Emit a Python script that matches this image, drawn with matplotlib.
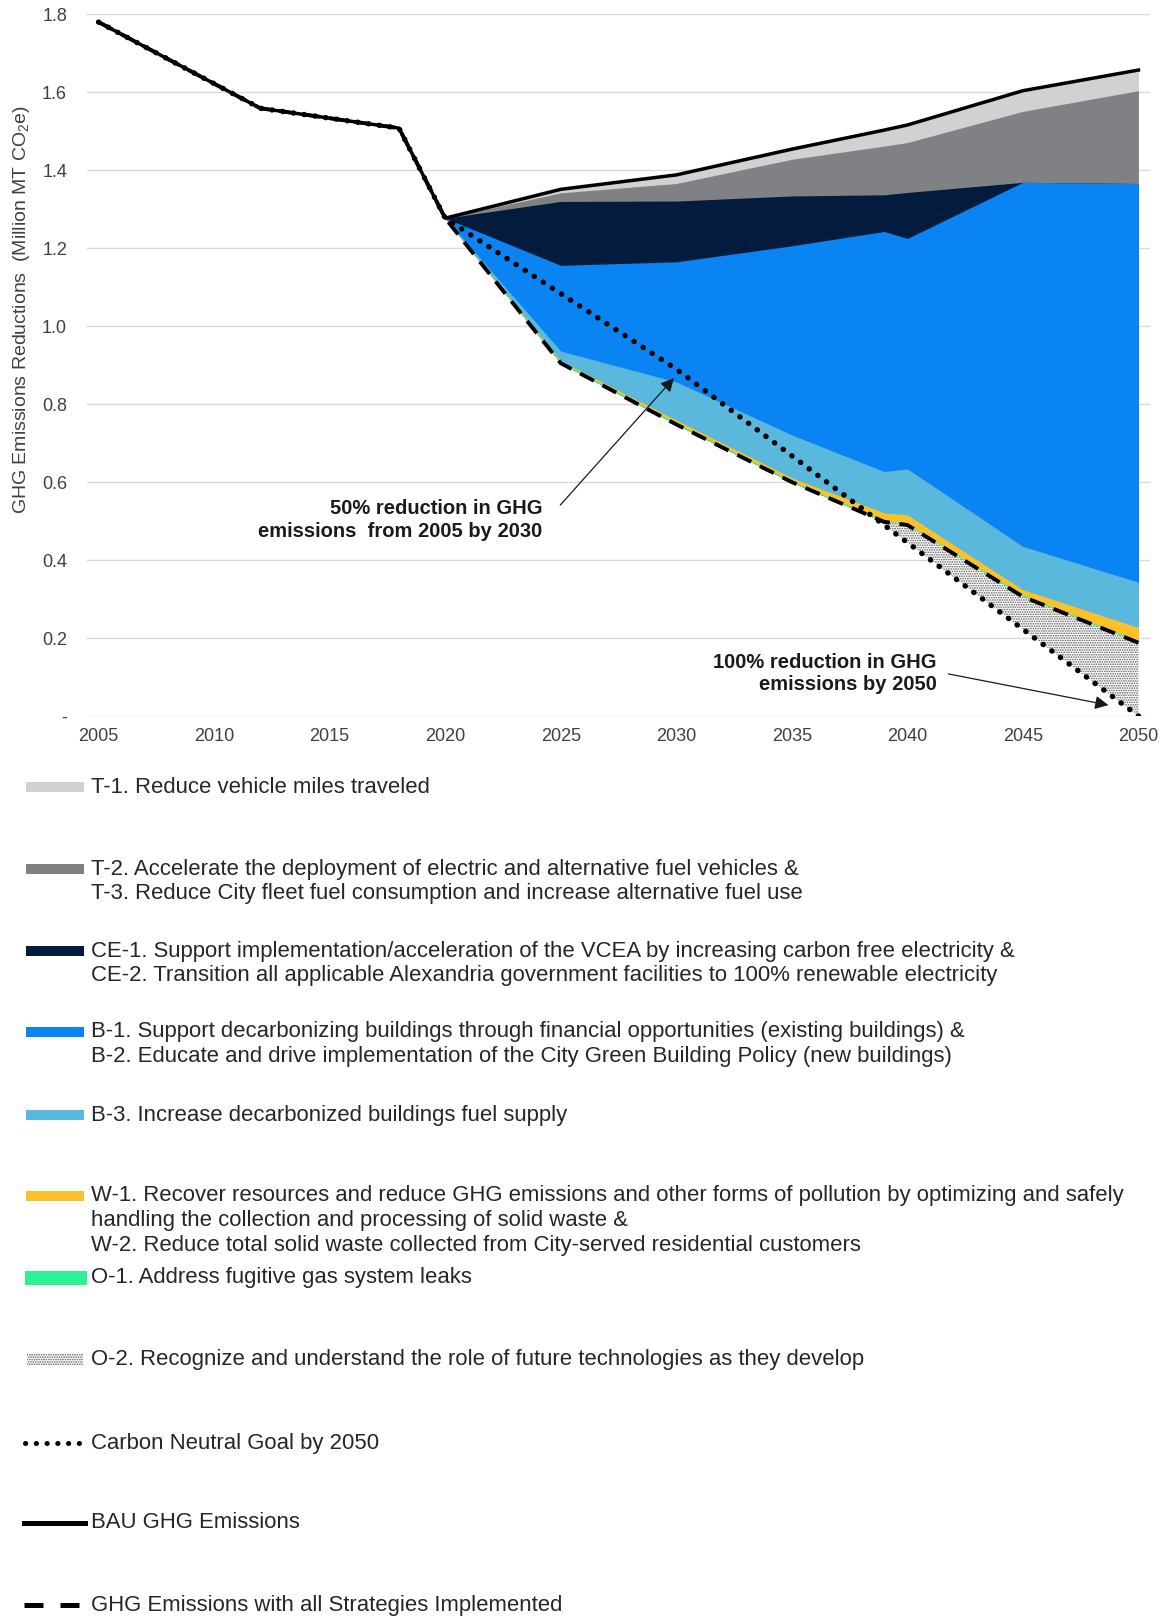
import numpy as np
import matplotlib
matplotlib.use("Agg")
import matplotlib.pyplot as plt
from matplotlib.patches import Rectangle
from matplotlib.lines import Line2D

plt.rcParams['font.family'] = ['Liberation Sans', 'DejaVu Sans']
plt.rcParams['mathtext.fontset'] = 'custom'
plt.rcParams['mathtext.rm'] = 'Liberation Sans'
plt.rcParams['mathtext.it'] = 'Liberation Sans:italic'
plt.rcParams['hatch.linewidth'] = 0.8

# ---------------- data ----------------
years_hist = [2005, 2012, 2018, 2020]
bau_hist = [1.780, 1.559, 1.508, 1.277]

years_proj = [2020, 2025, 2030, 2035, 2039, 2040, 2045, 2050]
bau_proj = [1.277, 1.351, 1.388, 1.454, 1.503, 1.516, 1.604, 1.657]
with_all_proj = [1.277, 0.905, 0.748, 0.600, 0.498, 0.490, 0.306, 0.188]

goal_years = [2020, 2030, 2050]
goal_vals = [1.277, 0.890, 0.000]

# strategy reductions (layer thickness), stacked upward from "with all strategies"
o1 = [0, 0.003, 0.003, 0.003, 0.003, 0.003, 0.004, 0.004]
w1 = [0, 0.003, 0.008, 0.008, 0.020, 0.023, 0.014, 0.035]
b3 = [0, 0.025, 0.098, 0.110, 0.106, 0.118, 0.111, 0.116]
b1 = [0, 0.220, 0.308, 0.485, 0.616, 0.591, 0.934, 1.023]
ce1 = [0, 0.164, 0.156, 0.128, 0.094, 0.118, 0.000, 0.000]
t2 = [0, 0.022, 0.045, 0.094, 0.125, 0.128, 0.182, 0.238]
t1 = [0, 0.010, 0.026, 0.032, 0.041, 0.045, 0.054, 0.054]

layer_colors = ['#2ef096', '#fbc12a', '#5ab8dc', '#0a84f2', '#031c3d', '#808184', '#d0d1d3']
o2_color = '#5a5a5a'

x_ticks = list(range(2005, 2051, 5))
y_ticks = [0, 0.2, 0.4, 0.6, 0.8, 1.0, 1.2, 1.4, 1.6, 1.8]
y_ticklabels = ['-', '0.2', '0.4', '0.6', '0.8', '1.0', '1.2', '1.4', '1.6', '1.8']

ylabel = 'GHG Emissions Reductions  (Million MT CO$_2$e)'
note_50 = '50% reduction in GHG\nemissions  from 2005 by 2030'
note_100 = '100% reduction in GHG\nemissions by 2050'

legend_labels = [
    'T-1. Reduce vehicle miles traveled',
    'T-2. Accelerate the deployment of electric and alternative fuel vehicles &\n'
    'T-3. Reduce City fleet fuel consumption and increase alternative fuel use',
    'CE-1. Support implementation/acceleration of the VCEA by increasing carbon free electricity &\n'
    'CE-2. Transition all applicable Alexandria government facilities to 100% renewable electricity',
    'B-1. Support decarbonizing buildings through financial opportunities (existing buildings) &\n'
    'B-2. Educate and drive implementation of the City Green Building Policy (new buildings)',
    'B-3. Increase decarbonized buildings fuel supply',
    'W-1. Recover resources and reduce GHG emissions and other forms of pollution by optimizing and safely\n'
    'handling the collection and processing of solid waste &\n'
    'W-2. Reduce total solid waste collected from City-served residential customers',
    'O-1. Address fugitive gas system leaks',
    'O-2. Recognize and understand the role of future technologies as they develop',
    'Carbon Neutral Goal by 2050',
    'BAU GHG Emissions',
    'GHG Emissions with all Strategies Implemented',
]

# ---------------- figure ----------------
W, H = 1161, 1618
fig = plt.figure(figsize=(W / 100, H / 100), dpi=100)
ax_l, ax_r, ax_t, ax_b = 87, 1150, 14.3, 716
ax = fig.add_axes([ax_l / W, 1 - ax_b / H, (ax_r - ax_l) / W, (ax_b - ax_t) / H])

xp = np.array(years_proj, dtype=float)
base = np.array(with_all_proj)
layers = [o1, w1, b3, b1, ce1, t2, t1]
cum = np.cumsum(np.array(layers), axis=0)

# draw from the top layer down so lower layers overlay (no seams)
for i in reversed(range(len(layers))):
    ax.fill_between(xp, base, base + cum[i], color=layer_colors[i], lw=0, zorder=2)

# O-2 : between goal line and "with all strategies" line
goal_interp = np.interp(xp, goal_years, goal_vals)
ax.fill_between(xp, goal_interp, base, where=base >= goal_interp, interpolate=True,
                facecolor='white', edgecolor=o2_color, hatch='.......', lw=0, zorder=2)

tc = '#404040'
# lines
bau_x = years_hist + years_proj[1:]
bau_y = bau_hist + bau_proj[1:]
wa_x = years_hist + years_proj[1:]
wa_y = bau_hist + with_all_proj[1:]
goal_x = years_hist + goal_years[1:]
goal_y = bau_hist + goal_vals[1:]

ax.plot(goal_x, goal_y, color='black', lw=3.9, linestyle=(0, (0.05, 1.95)),
        dash_capstyle='round', zorder=4)
ax.plot(wa_x, wa_y, color='black', lw=2.8, linestyle=(0, (4.0, 2.5)), zorder=5)
ax.plot(bau_x, bau_y, color='black', lw=2.5, zorder=6, solid_joinstyle='round')

ax.set_xlim(2004.5, 2050.5)
ax.set_ylim(0, 1.8)
ax.set_xticks(x_ticks)
ax.set_xticklabels([str(v) for v in x_ticks])
ax.set_yticks(y_ticks)
ax.set_yticklabels(y_ticklabels)
ax.tick_params(axis='both', length=0, labelsize=13, colors=tc)
ax.tick_params(axis='y', pad=14.4)
ax.tick_params(axis='x', pad=8.5)
ax.grid(axis='y', color='#d9d9d9', lw=1.0)
ax.set_axisbelow(True)
for s in ax.spines.values():
    s.set_visible(False)

fig.text(22 / W, 1 - 310 / H, ylabel, rotation=90, ha='center', va='center',
         fontsize=14, color=tc)

# annotations
nc = '#1a1a1a'
ax.text(2024.2, 0.503, note_50, ha='right', va='center', fontsize=14.5,
        fontweight='bold', color=nc, zorder=7, linespacing=1.22)
ax.annotate('', xy=(2029.9, 0.867), xytext=(2024.98, 0.541),
            arrowprops=dict(arrowstyle='-|>', color=nc, lw=0.9, mutation_scale=20,
                            shrinkA=0, shrinkB=0), zorder=7)
ax.text(2041.26, 0.109, note_100, ha='right', va='center', fontsize=14.5,
        fontweight='bold', color=nc, zorder=7, linespacing=1.18)
ax.annotate('', xy=(2048.7, 0.028), xytext=(2041.77, 0.108),
            arrowprops=dict(arrowstyle='-|>', color=nc, lw=0.9, mutation_scale=20,
                            shrinkA=0, shrinkB=0), zorder=7)

# ---------------- legend (pixel coordinates overlay) ----------------
lax = fig.add_axes([0, 0, 1, 1])
lax.set_xlim(0, W)
lax.set_ylim(H, 0)
lax.axis('off')

first_line_y = [787, 869, 951, 1032, 1115, 1196, 1278, 1359, 1443, 1523, 1605]
patch_colors = ['#d0d1d3', '#808184', '#031c3d', '#0a84f2', '#5ab8dc', '#fbc12a', '#2ef096']
line_step = 24.7
text_x = 91
lc = '#262626'
for k, (lab, yc) in enumerate(zip(legend_labels, first_line_y)):
    for j, line in enumerate(lab.split('\n')):
        lax.text(text_x, yc + j * line_step, line, fontsize=15.95, color=lc,
                 ha='left', va='center')
    if k < 6:
        lax.add_patch(Rectangle((26, yc - 5), 58, 10, color=patch_colors[k], lw=0))
    elif k == 6:
        lax.add_patch(Rectangle((25, yc - 7), 62, 14, color=patch_colors[k], lw=0))
    elif k == 7:
        lax.add_patch(Rectangle((27, yc - 6), 56, 12, facecolor='white', edgecolor=o2_color,
                                hatch='.......', lw=0))
    elif k == 8:
        lax.add_line(Line2D([25, 82], [yc, yc], color='black', lw=3.6,
                            linestyle=(0, (0.05, 2.1)), dash_capstyle='round'))
    elif k == 9:
        lax.add_line(Line2D([24, 85], [yc, yc], color='black', lw=3.6))
    elif k == 10:
        lax.add_line(Line2D([24, 80], [yc, yc], color='black', lw=3.6,
                            linestyle=(0, (3.8, 3.4))))

fig.savefig('out.png', dpi=100)
